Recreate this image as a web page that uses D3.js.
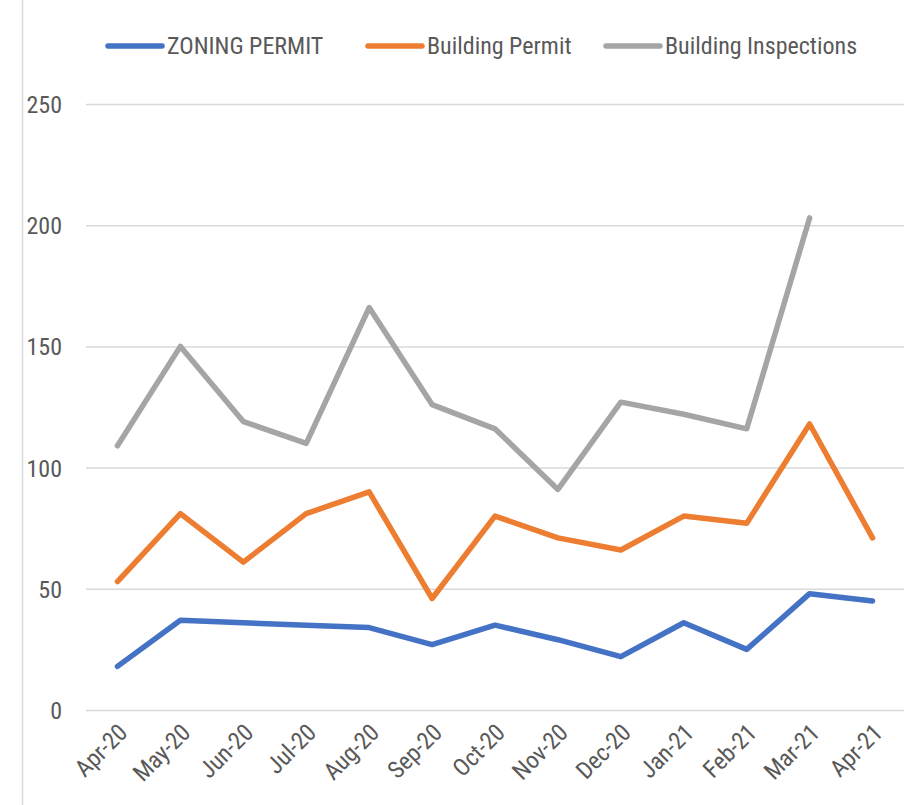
<!DOCTYPE html>
<html>
<head>
<meta charset="utf-8">
<script src="https://cdn.jsdelivr.net/npm/d3@7"></script>
<style>
  body { margin: 0; padding: 0; background: #fff; }
  svg text { font-family: "Liberation Sans Narrow", "Arial Narrow", "Roboto Condensed", sans-serif; fill: #595959; }
</style>
</head>
<body>
<div id="chart"></div>
<script>
// monthly counts, Apr-20 .. Apr-21
var months = ["Apr-20","May-20","Jun-20","Jul-20","Aug-20","Sep-20","Oct-20","Nov-20","Dec-20","Jan-21","Feb-21","Mar-21","Apr-21"];
var zoning = [18, 37, 36, 35, 34, 27, 35, 29, 22, 36, 25, 48, 45];
var buildingPermit = [53, 81, 61, 81, 90, 46, 80, 71, 66, 80, 77, 118, 71];
var inspections = [109, 150, 119, 110, 166, 126, 116, 91, 127, 122, 116, 203, null]; // no Apr-21 value
var yTicks = [0, 50, 100, 150, 200, 250];

var series = [
  { name: "ZONING PERMIT", values: zoning, color: "#4472C4", lx: 108 },
  { name: "Building Permit", values: buildingPermit, color: "#ED7D31", lx: 368 },
  { name: "Building Inspections", values: inspections, color: "#A5A5A5", lx: 606 }
];

var W = 914, H = 805;
var svg = d3.select("#chart").append("svg").attr("width", W).attr("height", H);

// left border of the (cropped) chart area
svg.append("line").attr("x1", 22.5).attr("x2", 22.5).attr("y1", 0).attr("y2", H)
  .attr("stroke", "#d9d9d9").attr("stroke-width", 1.5);

var x = d3.scalePoint().domain(months).range([86, 904]).padding(0.5);
var y = d3.scaleLinear().domain([0, 250]).range([710, 104]);

// gridlines + y labels
var yAxis = d3.axisLeft(y).tickValues(yTicks).tickSize(-(904 - 86)).tickPadding(24);
var gy = svg.append("g").attr("transform", "translate(86,0)").call(yAxis);
gy.select(".domain").remove();
gy.selectAll(".tick line").attr("stroke", "#d9d9d9").attr("stroke-width", 1.5);
gy.selectAll(".tick text").attr("font-size", 24).attr("dy", "0.35em").style("fill", "#595959");

// x labels, rotated
var xAxis = d3.axisBottom(x).tickSize(0).tickPadding(0);
var gx = svg.append("g").attr("transform", "translate(0,710)").call(xAxis);
gx.select(".domain").remove();
gx.selectAll(".tick text")
  .attr("font-size", 24)
  .attr("text-anchor", "end")
  .attr("dy", null).attr("y", 0)
  .attr("transform", "translate(11,24) rotate(-45)")
  .style("fill", "#595959");

// lines
var line = d3.line()
  .defined(function(d) { return d != null; })
  .x(function(d, i) { return x(months[i]); })
  .y(function(d) { return y(d); });

svg.append("g").selectAll("path").data(series).enter().append("path")
  .attr("d", function(s) { return line(s.values); })
  .attr("fill", "none")
  .attr("stroke", function(s) { return s.color; })
  .attr("stroke-width", 5.5)
  .attr("stroke-linejoin", "round")
  .attr("stroke-linecap", "round");

// legend
var lg = svg.append("g").selectAll("g").data(series).enter().append("g")
  .attr("transform", function(s) { return "translate(" + s.lx + ",46)"; });
lg.append("line").attr("x1", 0).attr("x2", 54).attr("y1", 0).attr("y2", 0)
  .attr("stroke", function(s) { return s.color; }).attr("stroke-width", 5.5).attr("stroke-linecap", "round");
lg.append("text").attr("x", 59).attr("dy", "0.35em").attr("font-size", 24)
  .text(function(s) { return s.name; });
</script>
</body>
</html>
